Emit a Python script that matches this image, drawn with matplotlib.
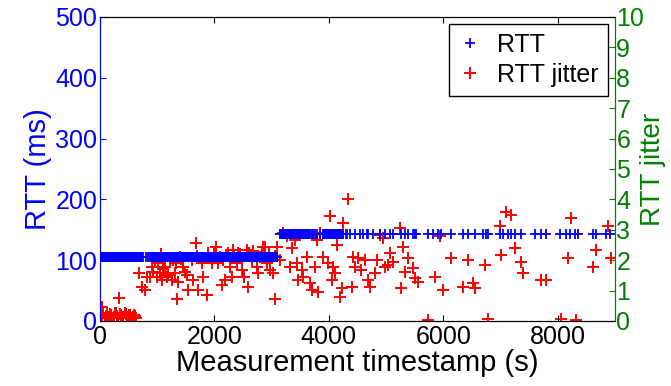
import numpy as np
import matplotlib.pyplot as plt

plt.rcParams['font.family'] = ['Liberation Sans', 'DejaVu Sans']

# RTT: stretches where samples come every ~10 s (solid band in the figure)
rtt_dense_low = [(0, 640), (880, 1380), (1420, 3100)]
rtt_dense_high = [(3144, 3668), (3900, 4250)]
rtt_step = 10
# RTT: isolated samples
rtt_t_low = [655, 670, 690, 700, 715, 730, 760, 800, 840, 1400]
rtt_t_high = [3697, 3720, 3755, 3800, 3843, 4294, 4320, 4367, 4454, 4541, 4600, 4658,
              4687, 4774, 4891, 4978, 5066, 5124, 5269, 5328, 5386, 5473, 5502, 5531,
              5735, 5822, 5909, 5968, 6143, 6346, 6434, 6550, 6696, 6754, 6783, 6987,
              7045, 7132, 7191, 7249, 7365, 7598, 7715, 7802, 8035, 8151, 8210, 8297,
              8355, 8617, 8675, 8850, 8908]
rtt_low_ms = 105
rtt_high_ms = 143

# RTT jitter samples
jit_t = [0, 20, 35, 40, 60, 80, 100, 120, 140, 160, 180, 200, 220, 240, 260, 280, 300,
         338, 320, 350, 370, 390, 410, 430, 450, 470, 490, 510, 530, 550, 570, 590,
         610, 630,
         687, 727, 785, 815, 873, 902, 920, 960, 990, 1010, 1048, 1060, 1077, 1100,
         1135, 1165, 1190, 1223, 1252, 1280, 1310, 1330, 1351, 1368, 1397, 1420,
         1456, 1480, 1514, 1543, 1601, 1630, 1677, 1700, 1717, 1776, 1805, 1863,
         1892, 1950, 1980, 2000, 2026, 2067, 2100, 2125, 2154, 2183, 2200, 2241,
         2271, 2300, 2329, 2350, 2387, 2416, 2450, 2474, 2515, 2562, 2591, 2600,
         2649, 2678, 2700, 2736, 2765, 2800, 2824, 2853, 2882, 2911, 2950, 2969,
         3016, 3050, 3057, 3098,
         3144, 3202, 3260, 3319, 3348, 3406, 3435, 3464, 3523, 3552, 3610, 3668,
         3697, 3755, 3785, 3814, 3843, 3901, 3988, 4017, 4047, 4076, 4105, 4134,
         4192, 4221, 4250, 4338, 4396, 4425, 4454, 4512, 4570, 4629, 4687, 4716,
         4803, 4833, 4891, 4950, 4978, 5037, 5066, 5124, 5240, 5269, 5298, 5328,
         5386, 5473, 5502, 5560, 5735, 5851, 5939, 5997, 6143, 6346, 6434, 6521,
         6550, 6725, 6783, 6987, 7016, 7103, 7191, 7249, 7365, 7394, 7715, 7802,
         8064, 8181, 8239, 8326, 8617, 8675, 8879, 8937]
jit_val = [0.2, 0.12, 0.47, 0.15, 0.25, 0.1, 0.18, 0.25, 0.12, 0.1, 0.22, 0.2, 0.1, 0.12,
           0.25, 0.25, 0.15, 0.77, 0.1, 0.22, 0.2, 0.1, 0.12, 0.25, 0.22, 0.12, 0.1, 0.2,
           0.2, 0.1, 0.12, 0.2, 0.18, 0.1,
           1.57, 1.13, 1.02, 1.46, 1.46, 1.79, 1.6, 2.01, 1.46, 1.9, 1.57, 2.2, 1.35, 1.7,
           1.79, 1.46, 1.5, 2.01, 1.35, 2.0, 1.57, 1.9, 0.74, 1.29, 2.12, 2.05,
           1.79, 1.6, 1.51, 1.02, 2.01, 1.35, 2.56, 2.15, 1.02, 1.9, 1.46, 0.86,
           2.23, 1.9, 2.07, 2.2, 2.45, 1.9, 2.12, 1.18, 2.01, 1.35, 2.18, 2.23,
           1.79, 1.46, 2.34, 2.15, 1.9, 2.23, 2.2, 1.68, 1.46, 2.34, 1.13, 2.25,
           2.01, 2.29, 2.15, 1.79, 1.57, 2.1, 2.23, 2.45, 2.45, 1.9, 2.2, 1.68,
           1.57, 2.15, 0.74, 2.45,
           2.01, 2.89, 2.78, 1.79, 2.4, 2.67, 1.9, 1.35, 1.68, 1.46, 2.12, 1.24,
           1.02, 1.79, 2.67, 0.97, 2.89, 2.12, 1.9, 3.44, 1.35, 1.79, 1.57, 2.5,
           0.8, 1.07, 3.22, 4.02, 1.13, 2.12, 1.79, 2.07, 1.68, 2.01, 1.35, 1.13,
           1.57, 2.01, 2.84, 2.73, 1.79, 1.84, 2.23, 1.95, 3.05, 1.07, 2.45, 1.62,
           2.07, 1.73, 1.4, 1.29, 0.03, 1.46, 2.78, 1.02, 2.07, 1.13, 2.01, 1.24,
           1.07, 1.84, 0.08, 3.11, 2.18, 3.6, 3.49, 2.4, 1.95, 1.57, 1.35, 1.35,
           0.08, 2.07, 3.38, 0.03, 1.79, 2.34, 3.11, 2.07]


def expand(segments, extra, step):
    ts = [np.arange(a, b + 1, step) for a, b in segments]
    return np.sort(np.concatenate(ts + [np.array(extra)]))


t_low = expand(rtt_dense_low, rtt_t_low, rtt_step)
t_high = expand(rtt_dense_high, rtt_t_high, rtt_step)
rtt_t = np.concatenate([t_low, t_high])
rtt_ms = np.concatenate([np.full(len(t_low), rtt_low_ms), np.full(len(t_high), rtt_high_ms)])

blue = '#0000ff'
green = '#008000'

fig = plt.figure(figsize=(6.71, 3.86), dpi=100)
ax1 = fig.add_axes([0.149, 0.1684, 0.7675, 0.7876])
ax2 = ax1.twinx()

h1, = ax1.plot(rtt_t, rtt_ms, '+', color=blue, markersize=7, mew=1.3, label='RTT')
h2, = ax2.plot(jit_t, jit_val, '+', color='red', markersize=8, mew=1.4, label='RTT jitter')

ax1.set_xlim(0, 9000)
ax1.set_ylim(0, 500)
ax2.set_ylim(0, 10)
ax1.set_xticks([0, 2000, 4000, 6000, 8000])
ax1.set_yticks([0, 100, 200, 300, 400, 500])
ax2.set_yticks(range(0, 11))

ax1.tick_params(axis='x', direction='in', top=True, length=4, labelsize=18, pad=3)
ax1.tick_params(axis='y', direction='in', colors=blue, length=4, labelsize=18, pad=2)
ax2.tick_params(axis='y', direction='in', colors=green, length=4, labelsize=18, pad=1)

ax1.set_xlabel('Measurement timestamp (s)', fontsize=21, labelpad=0)
ax1.set_ylabel('RTT (ms)', fontsize=21, color=blue, labelpad=2)
ax2.set_ylabel('RTT jitter', fontsize=20, color=green, labelpad=-3)

for ax in (ax1, ax2):
    ax.spines['left'].set_color(blue)
    ax.spines['right'].set_color(green)

leg = ax1.legend([h1, h2], ['RTT', 'RTT jitter'], loc='upper right', fontsize=18,
                 fancybox=False, edgecolor='black', framealpha=1,
                 handlelength=1.0, handletextpad=0.6, borderpad=0.35,
                 labelspacing=0.25, borderaxespad=0,
                 bbox_to_anchor=(0.986, 0.977))
leg.get_frame().set_linewidth(1.0)
ax1.set_zorder(ax2.get_zorder() + 1)
ax1.patch.set_visible(False)

fig.savefig('out.png', dpi=100)
